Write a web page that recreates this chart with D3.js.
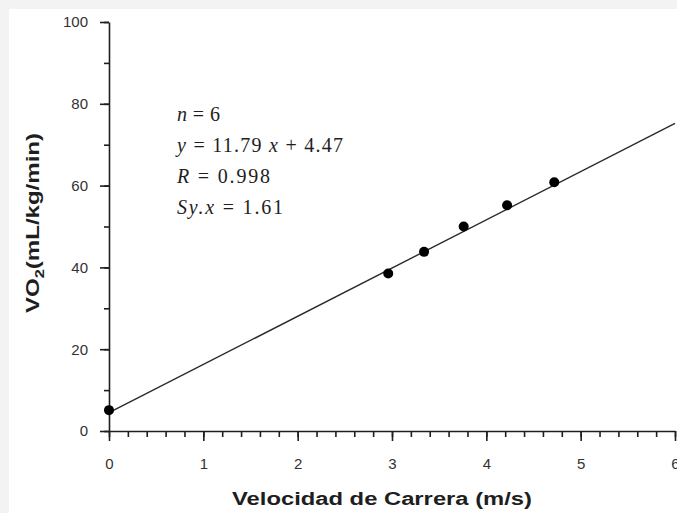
<!DOCTYPE html>
<html>
<head>
<meta charset="utf-8">
<script src="https://cdn.jsdelivr.net/npm/d3@7"></script>
<style>
  html, body { margin: 0; padding: 0; background: #f3f3f3; }
  svg { display: block; }
</style>
</head>
<body>
<script>
// data
const speed = [0, 2.96, 3.34, 3.76, 4.22, 4.72];
const vo2 = [5.1, 38.5, 43.8, 50.0, 55.2, 60.8];
const slope = 11.79;
const intercept = 4.47;
const xTicks = [0, 1, 2, 3, 4, 5, 6];
const yTicks = [0, 20, 40, 60, 80, 100];
const statLines = [
  [["n", true], [" = 6", false]],
  [["y", true], [" = 11.79 ", false], ["x", true], [" + 4.47", false]],
  [["R", true], [" = 0.998", false]],
  [["Sy.x", true], [" = 1.61", false]]
];
const statWidths = [43, 166, 93, 106];

const WIDTH = 677;
const HEIGHT = 513;
const INK = '#1e1e1e';

const svg = d3.select('body')
  .append('svg')
  .attr('width', WIDTH)
  .attr('height', HEIGHT);

// white plot paper, grey strip on top and left
svg.append('rect')
  .attr('x', 9).attr('y', 9)
  .attr('width', WIDTH - 9).attr('height', HEIGHT - 9)
  .attr('fill', '#ffffff');

const X_SCALE = d3.scaleLinear().domain([0, 6]).range([109, 675]);
const Y_SCALE = d3.scaleLinear().domain([0, 100]).range([431, 22]);

// minor ticks first
svg.append('g')
   .attr('transform', 'translate(0,' + Y_SCALE(0) + ')')
   .call(d3.axisBottom(X_SCALE).tickValues(d3.range(0, 6.01, 0.2)).tickSize(6).tickFormat(''))
   .call(g => g.select('.domain').remove());
svg.append('g')
   .attr('transform', 'translate(' + X_SCALE(0) + ',0)')
   .call(d3.axisLeft(Y_SCALE).tickValues(d3.range(0, 101, 10)).tickSize(5).tickFormat(''))
   .call(g => g.select('.domain').remove());

// major axes
svg.append('g')
   .attr('id', 'x-axis')
   .attr('transform', 'translate(0,' + Y_SCALE(0) + ')')
   .call(d3.axisBottom(X_SCALE).tickValues(xTicks).tickFormat(d3.format('d'))
         .tickSize(10).tickSizeOuter(0).tickPadding(17));
svg.append('g')
   .attr('id', 'y-axis')
   .attr('transform', 'translate(' + X_SCALE(0) + ',0)')
   .call(d3.axisLeft(Y_SCALE).tickValues(yTicks).tickFormat(d3.format('d'))
         .tickSize(9).tickSizeOuter(0).tickPadding(12));

svg.selectAll('.tick line, .domain')
   .attr('stroke', INK)
   .attr('stroke-width', 1.6);
svg.selectAll('.tick text')
   .attr('font-family', 'Liberation Sans, Arial, sans-serif')
   .attr('font-size', 15)
   .attr('fill', '#333');

// regression line
const line = d3.line()
  .x(d => X_SCALE(d))
  .y(d => Y_SCALE(slope * d + intercept));
svg.append('path')
   .datum([0, 6])
   .attr('d', line)
   .attr('fill', 'none')
   .attr('stroke', '#2a2a2a')
   .attr('stroke-width', 1.4);

// points
svg.selectAll('circle.pt')
   .data(speed)
   .enter()
   .append('circle')
   .attr('class', 'pt')
   .attr('cx', d => X_SCALE(d))
   .attr('cy', (d, i) => Y_SCALE(vo2[i]))
   .attr('r', 5)
   .attr('fill', '#000');

// statistics block
statLines.forEach((parts, i) => {
  const row = svg.append('text')
     .attr('x', 177)
     .attr('y', 121 + i * 31)
     .attr('font-family', 'Liberation Serif, Times New Roman, serif')
     .attr('font-size', 20)
     .attr('fill', INK)
     .attr('textLength', statWidths[i])
     .attr('lengthAdjust', 'spacing');
  parts.forEach(p => {
    row.append('tspan')
       .attr('font-style', p[1] ? 'italic' : 'normal')
       .text(p[0]);
  });
});

// axis titles
svg.append('text')
   .attr('x', 382)
   .attr('y', 505)
   .attr('text-anchor', 'middle')
   .attr('font-family', 'Liberation Sans, Arial, sans-serif')
   .attr('font-weight', 'bold')
   .attr('font-size', 18)
   .attr('fill', INK)
   .attr('textLength', 300)
   .attr('lengthAdjust', 'spacingAndGlyphs')
   .text('Velocidad de Carrera (m/s)');

const yTitle = svg.append('text')
   .attr('transform', 'translate(39,223) rotate(-90)')
   .attr('text-anchor', 'middle')
   .attr('font-family', 'Liberation Sans, Arial, sans-serif')
   .attr('font-weight', 'bold')
   .attr('font-size', 19)
   .attr('fill', INK)
   .attr('textLength', 180)
   .attr('lengthAdjust', 'spacingAndGlyphs');
yTitle.append('tspan').text('VO');
yTitle.append('tspan').attr('font-size', 13).attr('dy', 5).text('2');
yTitle.append('tspan').attr('dy', -5).text('(mL/kg/min)');
</script>
</body>
</html>
